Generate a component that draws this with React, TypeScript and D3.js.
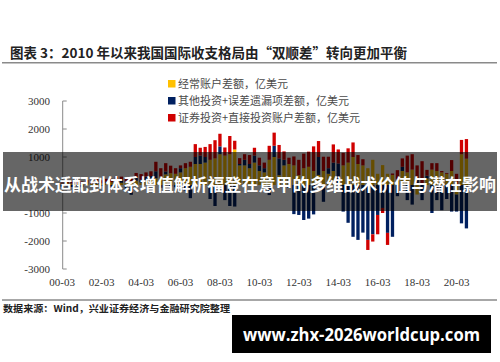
import React from "react";
import * as d3 from "d3";

// ---- data (亿美元), quarterly 2000Q1 .. 2020Q3 ----
const currentAccount = [
  50, 60, 55, 40, 45, 50, 40, 40, 60, 80, 100, 110, 80, 100, 130, 150,
  90, 150, 200, 240, 300, 380, 420, 400, 450, 600, 650, 750, 750, 800, 900, 950,
  1100, 1050, 1100, 1270, 700, 700, 600, 800, 500, 450, 900, 1000, 350, 700, 750, 700,
  350, 600, 650, 500, 360, 500, 400, 500, 70, 700, 800, 1000, 750, 700, 600, 900,
  400, 710, 400, 360, 200, 500, 450, 550, -340, 50, 230, 550, 500, 450, 400, 500,
  -340, 1100, 940,
];
const otherInvest = [
  -60, -50, -70, -40, -80, 30, -40, 60, -30, 40, -60, 50, 90, -120, -350, 120,
  100, 150, 120, 250, -100, 100, -50, -80, 150, -200, -470, 250, 300, 200, -500, -750,
  280, -540, -750, -770, 50, 200, 150, 250, 200, 150, -360, 400, 600, 200, -100, -1040,
  -1070, -1250, -1200, -1050, 640, -600, 200, 300, 700, -950, -1350, -1850, -1960, -1700, -1960, -1760,
  -1070, -820, -1710, -1850, -400, 150, -540, -700, 200, -540, 100, -1000, -540, -900, -500, -950,
  -610, -1370, -1550,
];
const securitiesDirect = [
  40, 60, 50, 70, 80, 100, 110, 120, 110, 100, 120, 150, 130, 150, 140, 160,
  200, 150, 170, 340, 300, 300, 270, 200, 100, 180, 180, 460, 280, 360, 560, 650,
  450, 290, 650, 310, 210, 200, 320, 280, 275, 200, 500, 470, 480, 300, 225, 320,
  550, 520, 540, 880, 570, 510, 410, 650, 500, 450, 510, 520, 320, 220, -360, -260,
  -690, -180, -430, 50, 330, 300, 600, 550, 500, 800, 210, 230, 280, 50, 30, 390,
  400, 510, 700,
];
const quarters = currentAccount.map((_, i) => {
  const y = 2000 + Math.floor(i / 4);
  const m = (i % 4) * 3 + 3;
  return `${String(y % 100).padStart(2, "0")}-${String(m).padStart(2, "0")}`;
});
const xTickLabels = ["00-03", "02-03", "04-03", "06-03", "08-03", "10-03", "12-03", "14-03", "16-03", "18-03", "20-03"];
const yTicks = [3000, 2000, 1000, 0, -1000, -2000, -3000];
const seriesKeys = ["cur", "oth", "sec"];
const seriesNames = ["经常账户差额，亿美元", "其他投资+误差遗漏项差额，亿美元", "证券投资+直接投资账户差额，亿美元"];
const seriesColors = ["#FFC000", "#002060", "#D00000"];

const titleText = "图表 3：2010 年以来我国国际收支格局由“双顺差”转向更加平衡";
const sourceText = "数据来源：Wind，兴业证券经济与金融研究院整理";
const overlayText = "从战术适配到体系增值解析福登在意甲的多维战术价值与潜在影响";
const watermarkText = "www.zhx-2026worldcup.com";

const SERIF = "'Liberation Serif', 'Times New Roman', serif";
const CJK = "'Noto Sans CJK SC', 'Noto Sans', sans-serif";

export default function App() {
  const rows = quarters.map((q, i) => ({
    q,
    cur: currentAccount[i],
    oth: otherInvest[i],
    sec: securitiesDirect[i],
  }));
  const stacked = d3.stack<any>().keys(seriesKeys).offset(d3.stackOffsetDiverging)(rows);

  const step = 4.91;
  const x = d3
    .scaleBand<string>()
    .domain(quarters)
    .range([63 - step / 2, 63 - step / 2 + step * quarters.length])
    .paddingInner(0.33)
    .paddingOuter(0);
  const y = d3.scaleLinear().domain([-3000, 3000]).range([269, 101]);
  const axisX = 62.7;

  return (
    <svg
      width={500}
      height={362}
      style={{ position: "absolute", left: 0, top: 0, background: "#fff" }}
    >
      <rect x={0} y={0} width={500} height={362} fill="#fff" />
      {/* title */}
      <text x={10} y={58} fontFamily={CJK} fontWeight="bold" fontSize={13.5} fill="#222" textLength={397} lengthAdjust="spacingAndGlyphs">
        {titleText}
      </text>
      <line x1={2} x2={497} y1={62.7} y2={62.7} stroke="#8a8a8a" strokeWidth={1.4} />

      {/* legend */}
      {seriesNames.map((n, k) => (
        <g key={n}>
          <rect x={168} y={80 + k * 17} width={7.5} height={7.5} fill={seriesColors[k]} />
          <text x={178} y={87.5 + k * 17} fontFamily={CJK} fontSize={11} fill="#4a4a4a">
            {n}
          </text>
        </g>
      ))}

      {/* bars */}
      {stacked.map((s, k) => (
        <g key={s.key} fill={seriesColors[k]}>
          {s.map((d: any, i: number) => {
            const y0 = y(d[0]);
            const y1 = y(d[1]);
            const h = Math.abs(y0 - y1);
            if (h < 0.01) return null;
            return (
              <rect
                key={i}
                x={x(quarters[i])}
                y={Math.min(y0, y1)}
                width={x.bandwidth()}
                height={h}
              />
            );
          })}
        </g>
      ))}

      {/* y axis */}
      <line x1={axisX} x2={axisX} y1={y(3000)} y2={y(-3000)} stroke="#8a8a8a" strokeWidth={1} />
      {yTicks.map((t) => (
        <g key={t}>
          <line x1={axisX} x2={axisX + 4} y1={y(t)} y2={y(t)} stroke="#8a8a8a" strokeWidth={1} />
          <text x={50} y={y(t) + 4} textAnchor="end" fontFamily={SERIF} fontSize={11} fill="#333">
            {t}
          </text>
        </g>
      ))}

      {/* x labels */}
      {xTickLabels.map((l) => (
        <text
          key={l}
          x={(x(l) as number) + x.bandwidth() / 2}
          y={286}
          textAnchor="middle"
          fontFamily={SERIF}
          fontSize={11}
          fill="#333"
        >
          {l}
        </text>
      ))}

      {/* footer */}
      <line x1={2} x2={497} y1={300} y2={300} stroke="#8a8a8a" strokeWidth={1.5} />
      <text x={3} y={312} fontFamily={CJK} fontWeight="bold" fontSize={9.5} fill="#222" textLength={227} lengthAdjust="spacingAndGlyphs">
        {sourceText}
      </text>

      {/* overlay band */}
      <rect x={3} y={152} width={494} height={59} fill="rgba(0,0,0,0.6)" />
      <text x={250} y={191} textAnchor="middle" fontFamily={CJK} fontWeight="bold" fontSize={17} fill="#fff" textLength={492} lengthAdjust="spacingAndGlyphs">
        {overlayText}
      </text>

      {/* watermark */}
      <rect x={232} y={315} width={259} height={38} fill="#000" />
      <text x={361.5} y={341} textAnchor="middle" fontFamily="'Open Sans', 'DejaVu Sans', sans-serif" fontWeight="bold" fontSize={18} fill="#fff" textLength={237} lengthAdjust="spacingAndGlyphs">
        {watermarkText}
      </text>
    </svg>
  );
}
